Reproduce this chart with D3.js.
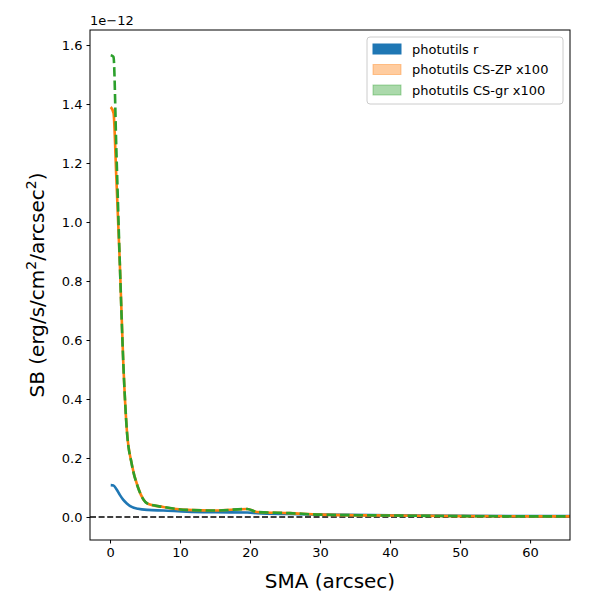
<!DOCTYPE html>
<html><head><meta charset="utf-8">
<script src="https://cdn.jsdelivr.net/npm/d3@7"></script>
<style>body{margin:0;background:#fff}text{font-family:"DejaVu Sans",sans-serif}</style>
</head><body><svg id="c" width="600" height="600"></svg>
<script>
// values in units of 1e-12
var sma = [0.1, 0.5, 0.9, 1.4, 1.9, 2.4, 3.1, 4.0, 5.4, 7.6, 11, 15, 19.6, 21, 25.7, 30, 40, 50, 60, 66];
var blueVals = [0.108, 0.107, 0.095, 0.075, 0.058, 0.046, 0.034, 0.028, 0.024, 0.022, 0.018, 0.016, 0.015, 0.013, 0.010, 0.008, 0.006, 0.004, 0.003, 0.003];
var orangeVals = [1.39, 1.37, 1.15, 0.86, 0.52, 0.295, 0.18, 0.10, 0.045, 0.034, 0.024, 0.022, 0.027, 0.017, 0.013, 0.008, 0.005, 0.003, 0.002, 0.002];
var greenVals = [1.565, 1.56, 1.25, 0.86, 0.52, 0.295, 0.18, 0.10, 0.045, 0.034, 0.024, 0.022, 0.027, 0.017, 0.013, 0.008, 0.005, 0.003, 0.002, 0.002];
var legendNames = ["photutils r", "photutils CS-ZP x100", "photutils CS-gr x100"];
var xTicks = [0, 10, 20, 30, 40, 50, 60];
var yTicks = [0, 0.2, 0.4, 0.6, 0.8, 1.0, 1.2, 1.4, 1.6];

var svg = d3.select("#c");
var L = 90, R = 570, T = 30, B = 540;
var x = d3.scaleLinear().domain([-2.86, 65.7]).range([L, R]);
var y = d3.scaleLinear().domain([-0.078, 1.651]).range([B, T]);

var ax = svg.append("g").attr("transform", "translate(0," + B + ")")
  .call(d3.axisBottom(x).tickValues(xTicks).tickSize(3.5).tickPadding(4));
var ay = svg.append("g").attr("transform", "translate(" + L + ",0)")
  .call(d3.axisLeft(y).tickValues(yTicks).tickSize(3.5).tickPadding(4).tickFormat(d3.format(".1f")));
[ax, ay].forEach(function(a){
  a.selectAll("text").attr("font-size", 13).attr("fill", "#000");
  a.select(".domain").remove();
});

var clip = svg.append("clipPath").attr("id", "cl").append("rect")
  .attr("x", L).attr("y", T).attr("width", R - L).attr("height", B - T);
var plot = svg.append("g").attr("clip-path", "url(#cl)");

plot.append("line").attr("x1", L).attr("x2", R).attr("y1", y(0)).attr("y2", y(0))
  .attr("stroke", "#000").attr("stroke-width", 1.6).attr("stroke-dasharray", "6,2.6");

var line = d3.line().curve(d3.curveMonotoneX);
function draw(vals, col, dash){
  var p = plot.append("path").attr("fill", "none").attr("stroke", col).attr("stroke-width", 2.6)
    .attr("d", line(sma.map(function(s, i){ return [x(s), y(vals[i])]; })));
  if (dash) p.attr("stroke-dasharray", "9.5,4");
}
draw(blueVals, "#1f77b4");
draw(orangeVals, "#ff7f0e");
draw(greenVals, "#2ca02c", true);

svg.append("rect").attr("x", L).attr("y", T).attr("width", R - L).attr("height", B - T)
  .attr("fill", "none").attr("stroke", "#000").attr("stroke-width", 1);

svg.append("text").attr("x", L).attr("y", 25).attr("font-size", 13).text("1e\u221212");
svg.append("text").attr("x", (L + R) / 2).attr("y", 588).attr("text-anchor", "middle")
  .attr("font-size", 20).text("SMA (arcsec)");
var yl = svg.append("text").attr("transform", "translate(44," + (T + B) / 2 + ") rotate(-90)")
  .attr("text-anchor", "middle").attr("font-size", 20);
yl.append("tspan").text("SB (erg/s/cm");
yl.append("tspan").attr("dy", -8).attr("font-size", 14).text("2");
yl.append("tspan").attr("dy", 8).text("/arcsec");
yl.append("tspan").attr("dy", -8).attr("font-size", 14).text("2");
yl.append("tspan").attr("dy", 8).text(")");

var lg = svg.append("g").attr("transform", "translate(367,37)");
lg.append("rect").attr("width", 196).attr("height", 67).attr("rx", 3).attr("fill", "#fff")
  .attr("fill-opacity", 0.8).attr("stroke", "#ccc");
var fills = [["#1f77b4", 1], ["#ff7f0e", 0.4], ["#2ca02c", 0.4]];
legendNames.forEach(function(n, i){
  lg.append("rect").attr("x", 6).attr("y", 7 + i * 20.5).attr("width", 28).attr("height", 10)
    .attr("fill", fills[i][0]).attr("fill-opacity", fills[i][1])
    .attr("stroke", fills[i][0]).attr("stroke-opacity", fills[i][1]);
  lg.append("text").attr("x", 45).attr("y", 16.5 + i * 20.5).attr("font-size", 13).text(n);
});
</script></body></html>
